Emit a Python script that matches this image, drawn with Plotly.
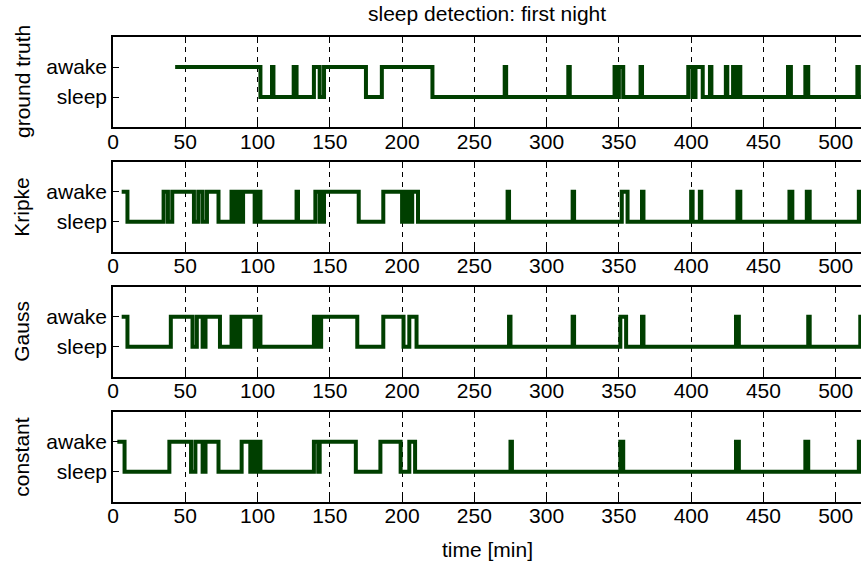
import plotly.graph_objects as go

# Each series: runs of "awake" as [minute it wakes, minute it falls asleep); 0 = sleep, 1 = awake
night_end = 600

gt_start = 43
gt_awake = [[43, 102], [110, 111], [125, 127], [139, 143], [146, 175], [186, 221],
            [271, 272], [315, 316], [347, 349], [350, 353], [365, 366],
            [398, 401], [403, 408], [413, 414], [424, 425], [429, 431], [432, 434],
            [467, 469], [479, 481], [515, 516]]

kr_start = 6
kr_awake = [[6, 10], [35, 38], [41, 56], [59, 62], [65, 73], [82, 83], [84, 85], [86, 87],
            [88, 89], [90, 98], [99, 100], [101, 102], [127, 128], [140, 143], [144, 145],
            [146, 170], [187, 200], [201, 202], [203, 204], [205, 206], [207, 211],
            [273, 274], [318, 319], [352, 356], [366, 367], [400, 401], [406, 407],
            [432, 434], [468, 470], [480, 482], [516, 517]]

ga_start = 6
ga_awake = [[6, 10], [40, 55], [58, 62], [64, 74], [82, 83], [84, 85], [86, 87], [88, 98],
            [99, 100], [101, 102], [139, 141], [142, 143], [144, 169], [187, 201],
            [205, 210], [274, 275], [318, 319], [351, 355], [366, 367], [431, 433],
            [481, 482], [517, 518]]

co_start = 3
co_awake = [[3, 8], [39, 54], [57, 62], [64, 73], [89, 95], [97, 99], [100, 102],
            [139, 142], [143, 168], [185, 199], [205, 209], [275, 276], [351, 353],
            [431, 433], [479, 481], [516, 517]]

panel_names = ["ground truth", "Kripke", "Gauss", "constant"]
series = [(gt_start, gt_awake), (kr_start, kr_awake), (ga_start, ga_awake), (co_start, co_awake)]
x_ticks = [0, 50, 100, 150, 200, 250, 300, 350, 400, 450, 500]
y_ticks = [0, 1]
y_ticklabels = ["sleep", "awake"]
title_text = "sleep detection: first night"
xlabel_text = "time [min]"


def step_points(start, runs, end):
    # change points for a step ("hv") line
    xs, ys = [start], [1 if runs[0][0] == start else 0]
    for u, d in runs:
        if u != start:
            xs.append(u)
            ys.append(1)
        xs.append(d)
        ys.append(0)
    xs.append(end)
    ys.append(0)
    return xs, ys


W, H = 861, 565
FONT = "Liberation Sans, Arial, Helvetica, sans-serif"
FS = 21
LINE_COLOR = "#003f00"
panel_px = [(37, 127), (162, 251.5), (287, 376.5), (412, 501.5)]

fig = go.Figure()
layout = dict(
    width=W, height=H,
    margin=dict(l=113, r=0, t=0, b=0),
    paper_bgcolor="white", plot_bgcolor="white",
    showlegend=False,
    font=dict(family=FONT, size=FS, color="black"),
    annotations=[],
)

for i, ((st, runs), name) in enumerate(zip(series, panel_names)):
    idx = "" if i == 0 else str(i + 1)
    xs, ys = step_points(st, runs, night_end)
    fig.add_trace(go.Scatter(
        x=xs, y=ys, mode="lines", line=dict(color=LINE_COLOR, width=4, shape="hv"),
        xaxis="x" + idx, yaxis="y" + idx, hoverinfo="skip"))
    top, bot = panel_px[i]
    layout["xaxis" + idx] = dict(
        domain=[0, 1], range=[0, 517.5], anchor="y" + idx,
        tickmode="array", tickvals=x_ticks, ticks="inside", ticklen=6, tickwidth=1,
        tickcolor="black", showline=True, linecolor="black", linewidth=1.5, mirror="ticks",
        showgrid=True, gridcolor="black", gridwidth=1, griddash="5px,5px",
        zeroline=False, ticklabelstandoff=-5,
        tickfont=dict(size=FS, family=FONT, color="black"),
    )
    layout["yaxis" + idx] = dict(
        domain=[1 - bot / H, 1 - top / H], range=[-1, 2], anchor="x" + idx,
        tickmode="array", tickvals=y_ticks, ticktext=y_ticklabels, ticks="inside",
        ticklen=6, tickwidth=1, tickcolor="black", showline=True, linecolor="black",
        linewidth=1.5, mirror=False, showgrid=False, zeroline=False,
        tickfont=dict(size=FS, family=FONT, color="black"),
    )
    layout["annotations"].append(dict(
        text=name, xref="paper", yref="paper", x=(22 - 113) / (W - 113),
        y=1 - ((top + bot) / 2) / H, xanchor="center", yanchor="middle",
        textangle=-90, showarrow=False, font=dict(size=FS, family=FONT, color="black")))

layout["annotations"].append(dict(
    text=title_text, xref="paper", yref="paper", x=0.5, y=1 - 13 / H,
    xanchor="center", yanchor="middle", showarrow=False,
    font=dict(size=FS, family=FONT, color="black")))
layout["annotations"].append(dict(
    text=xlabel_text, xref="paper", yref="paper", x=0.5, y=1 - 549 / H,
    xanchor="center", yanchor="middle", showarrow=False,
    font=dict(size=FS, family=FONT, color="black")))

fig.update_layout(**layout)
fig.write_html("out.html",
               config={"displayModeBar": False},
               post_script="document.body.style.margin='0px';"
                           "document.documentElement.style.overflow='hidden';")
